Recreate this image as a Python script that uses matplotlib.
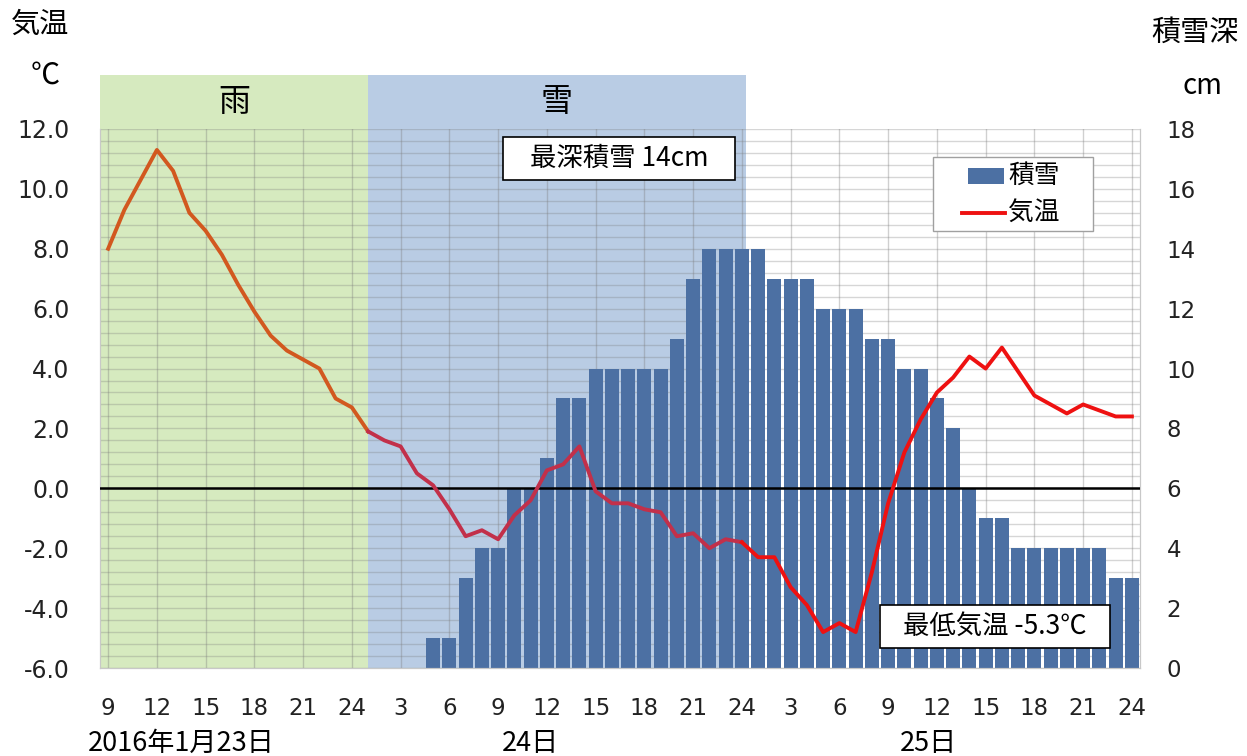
import numpy as np
import matplotlib
matplotlib.use('Agg')
import matplotlib.pyplot as plt
from matplotlib.patches import Rectangle
from matplotlib.lines import Line2D
from matplotlib.transforms import blended_transform_factory

plt.rcParams['font.family'] = ['DejaVu Sans', 'Noto Sans CJK JP']
JP = ['Noto Sans CJK JP', 'DejaVu Sans']

# hourly categories: 23rd 9h .. 25th 24h
hours = [9, 10, 11, 12, 13, 14, 15, 16, 17, 18, 19, 20, 21, 22, 23, 24,
         1, 2, 3, 4, 5, 6, 7, 8, 9, 10, 11, 12, 13, 14, 15, 16, 17, 18, 19, 20, 21, 22, 23, 24,
         1, 2, 3, 4, 5, 6, 7, 8, 9, 10, 11, 12, 13, 14, 15, 16, 17, 18, 19, 20, 21, 22, 23, 24]

# temperature (C)
temp = [8.0, 9.3, 10.3, 11.3, 10.6, 9.2, 8.6, 7.8, 6.8, 5.9, 5.1, 4.6, 4.3, 4.0, 3.0, 2.7,
        1.9, 1.6, 1.4, 0.5, 0.1, -0.7, -1.6, -1.4, -1.7, -0.9, -0.4, 0.6, 0.8, 1.4, -0.1, -0.5,
        -0.5, -0.7, -0.8, -1.6, -1.5, -2.0, -1.7, -1.8,
        -2.3, -2.3, -3.3, -3.9, -4.8, -4.5, -4.8, -2.8, -0.5, 1.2, 2.3, 3.2, 3.7, 4.4, 4.0, 4.7,
        3.9, 3.1, 2.8, 2.5, 2.8, 2.6, 2.4, 2.4]

# snow depth (cm)
snow = [0, 0, 0, 0, 0, 0, 0, 0, 0, 0, 0, 0, 0, 0, 0, 0,
        0, 0, 0, 0, 1, 1, 3, 4, 4, 6, 6, 7, 9, 9, 10, 10, 10, 10, 10, 11, 13, 14, 14, 14,
        14, 13, 13, 13, 12, 12, 12, 11, 11, 10, 10, 9, 8, 6, 5, 5, 4, 4, 4, 4, 4, 4, 3, 3]

temp_ticks = [-6, -4, -2, 0, 2, 4, 6, 8, 10, 12]
snow_ticks = [0, 2, 4, 6, 8, 10, 12, 14, 16, 18]

rain_end = 16      # category index where rain -> snow
snow_end = 39.25   # end of snow period

BAR_C = '#4c70a3'
RED = '#ee1111'

x = np.arange(len(hours))

fig = plt.figure(figsize=(12.47, 7.56), dpi=100)
ax = fig.add_axes([0.0802, 0.1164, 0.834, 0.713])
ax2 = ax.twinx()

# weather bands (also extend above the plot)
ax.axvspan(-0.5, rain_end, ymin=0, ymax=1.1, color='#d6eabf', zorder=0, clip_on=False, lw=0)
ax.axvspan(rain_end, snow_end, ymin=0, ymax=1.1, color='#b9cce4', zorder=0, clip_on=False, lw=0)
tr = blended_transform_factory(ax.transData, ax.transAxes)
ax.text((-0.5 + rain_end) / 2, 1.05, '雨', transform=tr, ha='center', va='center',
        fontsize=23, family=JP)
ax.text((rain_end + snow_end) / 2, 1.05, '雪', transform=tr, ha='center', va='center',
        fontsize=23, family=JP)

# snow bars
ax.bar(x, snow, width=0.87, color=BAR_C, zorder=2)
ax.set_ylim(0, 18)
ax.set_xlim(-0.5, len(hours) - 0.5)
ax.yaxis.tick_right()
ax.set_yticks(snow_ticks)
ax.set_yticklabels([str(v) for v in snow_ticks])
ax.set_yticks(np.arange(0, 18.01, 0.4), minor=True)
ax.set_xticks(x[::3])
ax.set_xticklabels([str(h) for h in hours[::3]])
ax.set_axisbelow(True)
ax.grid(which='both', axis='y', color='#7a7a7a', alpha=0.3, lw=1)
ax.grid(which='major', axis='x', color='#7a7a7a', alpha=0.35, lw=1)
ax.tick_params(axis='y', which='both', length=0, labelsize=16.5, pad=19, colors='#222222')
ax.tick_params(axis='x', length=0, labelsize=16.5, pad=21, colors='#222222')

# temperature line, coloured by band
ax2.set_ylim(-6, 12)
ax2.yaxis.tick_left()
ax2.set_yticks(temp_ticks)
ax2.set_yticklabels([f'{v:.1f}' for v in temp_ticks])
ax2.tick_params(axis='y', length=0, labelsize=17, pad=22, colors='#222222')
ax2.axhline(0, color='black', lw=1.8, zorder=3)
ax2.plot(x[:17], temp[:17], color='#d2581f', lw=2.8, zorder=4, solid_joinstyle='round')
ax2.plot(x[16:40], temp[16:40], color='#c2304a', lw=2.8, zorder=4, solid_joinstyle='round')
ax2.plot(x[39:], temp[39:], color=RED, lw=2.8, zorder=4, solid_joinstyle='round')

for a in (ax, ax2):
    for s in a.spines.values():
        s.set_color('#c8c8c8')
    a.spines['top'].set_visible(False)

# axis titles
fig.text(40 / 1247, 1 - 25 / 756, '気温', ha='center', va='center', fontsize=21, family=JP)
fig.text(45 / 1247, 1 - 76 / 756, '℃', ha='center', va='center', fontsize=21, family=JP)
fig.text(1195 / 1247, 1 - 33 / 756, '積雪深', ha='center', va='center', fontsize=21, family=JP)
fig.text(1203 / 1247, 1 - 86 / 756, 'cm', ha='center', va='center', fontsize=20, family=JP)

# date labels
ax.text(4.5, -0.14, '2016年1月23日', transform=tr, ha='center', va='center', fontsize=19.5, family=JP)
ax.text(26, -0.14, '24日', transform=tr, ha='center', va='center', fontsize=19.5, family=JP)
ax.text(50.5, -0.14, '25日', transform=tr, ha='center', va='center', fontsize=19.5, family=JP)

# annotation boxes
ax2.add_patch(Rectangle((0.3875, 0.905), 0.223, 0.08, transform=ax2.transAxes,
                        facecolor='white', edgecolor='black', lw=1.2, zorder=6))
ax2.text(0.499, 0.945, '最深積雪 14cm', transform=ax2.transAxes, ha='center', va='center',
         fontsize=19, family=JP, zorder=7)
ax2.add_patch(Rectangle((0.75, 0.037), 0.221, 0.08, transform=ax2.transAxes,
                        facecolor='white', edgecolor='black', lw=1.2, zorder=6))
ax2.text(0.8605, 0.077, '最低気温 -5.3℃', transform=ax2.transAxes, ha='center', va='center',
         fontsize=19, family=JP, zorder=7)

# legend box
ax2.add_patch(Rectangle((0.801, 0.8108), 0.1538, 0.1373, transform=ax2.transAxes,
                        facecolor='white', edgecolor='#a0a0a0', lw=1.0, zorder=6))
ax2.add_patch(Rectangle((0.8346, 0.898), 0.0346, 0.0297, transform=ax2.transAxes,
                        facecolor=BAR_C, edgecolor='none', zorder=7))
ax2.add_line(Line2D([0.8288, 0.8702], [0.8442, 0.8442], transform=ax2.transAxes,
                    color=RED, lw=2.8, zorder=7))
ax2.text(0.873, 0.913, '積雪', transform=ax2.transAxes, ha='left', va='center',
         fontsize=18.5, family=JP, zorder=7)
ax2.text(0.873, 0.845, '気温', transform=ax2.transAxes, ha='left', va='center',
         fontsize=18.5, family=JP, zorder=7)

fig.savefig('out.png', dpi=100)
